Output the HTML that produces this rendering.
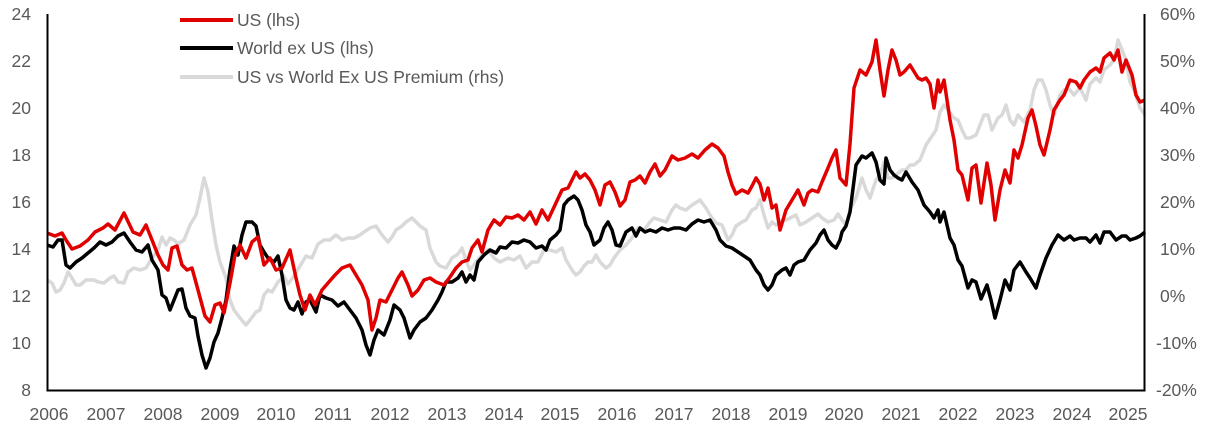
<!DOCTYPE html><html><head><style>body{margin:0;background:#fff}svg{display:block}text{font-family:"Liberation Sans",sans-serif;font-size:17.5px;fill:#595959}</style></head><body>
<svg width="1216" height="438" viewBox="0 0 1216 438">
<g text-anchor="end"><text x="31" y="20">24</text><text x="31" y="67">22</text><text x="31" y="114">20</text><text x="31" y="161">18</text><text x="31" y="208">16</text><text x="31" y="255">14</text><text x="31" y="302">12</text><text x="31" y="349">10</text><text x="31" y="396">8</text></g>
<g><text x="1160" y="20">60%</text><text x="1160" y="67">50%</text><text x="1160" y="114">40%</text><text x="1160" y="161">30%</text><text x="1160" y="208">20%</text><text x="1160" y="255">10%</text><text x="1160" y="302">0%</text><text x="1156" y="349">-10%</text><text x="1156" y="396">-20%</text></g>
<g text-anchor="middle"><text x="49" y="420">2006</text><text x="106" y="420">2007</text><text x="163" y="420">2008</text><text x="220" y="420">2009</text><text x="276" y="420">2010</text><text x="333" y="420">2011</text><text x="390" y="420">2012</text><text x="447" y="420">2013</text><text x="504" y="420">2014</text><text x="560" y="420">2015</text><text x="617" y="420">2016</text><text x="674" y="420">2017</text><text x="731" y="420">2018</text><text x="788" y="420">2019</text><text x="844" y="420">2020</text><text x="901" y="420">2021</text><text x="958" y="420">2022</text><text x="1015" y="420">2023</text><text x="1072" y="420">2024</text><text x="1128" y="420">2025</text></g>
<g fill="none" stroke-width="3.5" stroke-linejoin="round">
<polyline stroke="#d9d9d9" points="47,280 52,283 56,292 60,290 64,283 68,272 72,278 76,285 80,285 86,280 90,280 94,280 98,282 104,283 110,278 114,276 118,282 124,283 128,272 134,268 140,270 146,268 152,258 158,250 162,237 166,245 170,238 174,240 178,244 184,240 190,225 196,215 200,198 204,178 208,192 212,220 216,245 220,262 226,278 230,300 234,310 240,318 246,325 250,320 256,312 260,310 264,295 268,290 272,292 278,282 284,276 288,284 294,276 300,266 306,256 312,258 318,244 324,240 330,240 336,235 342,240 348,238 354,238 360,235 364,232 370,228 376,226 382,235 388,242 392,237 396,230 402,226 406,222 412,218 416,222 420,226 426,230 430,248 436,262 440,266 446,268 452,258 458,254 462,248 466,260 470,270 476,262 482,255 488,250 494,258 500,262 508,258 514,260 520,256 526,268 532,262 538,262 544,250 550,250 556,252 562,248 566,260 572,270 576,275 580,272 584,266 588,262 592,262 596,255 600,262 606,268 610,265 614,258 620,250 626,245 632,238 638,228 644,230 650,222 654,218 660,220 666,222 672,210 676,205 680,208 686,210 692,205 700,200 706,208 710,215 716,223 722,225 728,240 732,235 736,226 742,222 746,220 752,210 756,208 760,200 764,215 768,228 772,222 776,225 780,222 786,220 790,218 796,215 800,225 806,222 812,218 818,214 822,218 828,222 834,220 838,214 842,220 846,225 850,210 856,198 862,178 866,190 870,198 876,180 880,175 884,162 888,178 892,178 896,175 902,170 906,170 910,165 914,165 920,160 926,145 932,136 936,130 940,112 944,105 948,110 954,118 958,120 962,130 966,138 970,138 976,135 980,125 984,115 988,115 992,130 998,118 1002,115 1006,105 1010,120 1014,125 1018,115 1024,122 1030,110 1034,90 1038,80 1042,80 1046,90 1050,105 1054,115 1060,95 1064,90 1070,90 1074,95 1080,88 1086,100 1090,84 1096,78 1100,82 1104,70 1110,65 1114,60 1118,40 1122,50 1126,60 1130,82 1134,90 1140,108 1145,115"/>
<polyline stroke="#000" points="47,245 53,247 58,240 62,240 66,265 70,268 76,262 82,258 88,253 94,248 100,242 106,245 112,242 118,236 124,233 130,242 136,250 142,252 148,245 152,260 158,270 162,295 166,298 170,310 174,300 178,290 182,289 186,308 190,316 195,318 198,336 202,355 206,368 210,358 214,342 218,333 222,318 226,300 230,270 234,246 238,255 242,235 246,222 252,222 256,226 260,245 264,252 268,258 274,262 278,256 282,275 286,300 290,308 294,310 298,302 302,314 306,302 310,300 316,312 320,295 326,298 332,300 338,306 344,302 350,310 356,318 362,330 366,345 370,355 374,340 378,330 384,335 390,320 394,305 400,310 404,318 410,338 414,330 420,322 426,318 432,310 438,300 442,292 446,282 452,282 458,278 462,272 466,282 470,275 474,280 478,262 484,255 490,250 496,253 500,247 506,248 512,242 518,243 524,240 530,242 536,248 542,246 546,250 550,240 556,235 560,230 564,205 568,200 574,196 578,200 582,210 586,225 590,232 594,245 600,240 604,228 608,222 612,230 616,245 620,246 626,232 632,228 636,236 640,228 645,232 650,230 656,232 662,228 668,230 674,228 680,228 686,230 692,224 698,220 704,222 710,220 716,230 720,240 726,246 732,248 738,252 744,256 750,260 756,270 760,275 764,285 768,290 772,285 776,275 782,270 786,268 790,275 794,265 798,262 804,260 810,250 816,243 820,235 824,230 828,240 832,245 836,248 840,240 842,232 846,226 850,212 856,165 862,156 866,158 872,153 876,162 880,180 884,184 886,158 890,170 894,175 898,178 902,180 906,172 912,182 918,190 924,205 930,212 934,218 938,210 940,222 944,212 950,238 954,245 958,260 962,266 968,288 972,280 976,282 981,299 987,285 991,300 995,318 1000,300 1005,280 1010,290 1014,270 1020,262 1026,272 1030,278 1036,288 1040,275 1046,258 1052,245 1058,235 1064,240 1070,236 1074,240 1080,238 1086,238 1090,242 1096,235 1100,243 1104,232 1110,232 1116,240 1122,236 1126,236 1130,240 1136,238 1140,236 1145,232"/>
<polyline stroke="#e00000" points="47,233 55,236 62,233 66,240 72,249 80,246 88,240 95,232 103,228 108,224 115,230 124,213 133,232 140,235 146,225 152,240 158,255 163,265 168,270 172,248 177,246 182,265 187,270 192,268 198,290 205,316 210,322 215,305 220,303 224,313 230,283 235,255 240,245 246,258 252,242 258,237 264,265 270,258 276,270 282,268 290,250 296,278 300,295 305,310 310,295 315,305 322,290 328,283 335,275 342,268 350,265 356,275 362,285 368,300 372,330 376,318 380,300 386,302 392,290 398,278 402,272 408,285 412,296 418,290 424,280 430,278 436,282 444,285 450,277 456,268 462,262 468,260 472,248 478,240 482,252 488,230 494,220 500,225 506,217 512,218 518,215 524,220 530,212 536,224 542,210 548,220 555,205 562,190 568,188 572,180 576,172 580,178 585,174 590,180 595,190 600,205 605,185 610,182 615,192 620,206 625,200 630,182 635,180 640,176 645,183 650,172 655,164 660,176 665,170 672,156 678,160 685,158 692,154 698,158 705,150 712,144 718,148 724,156 728,172 732,185 736,194 742,190 748,193 752,186 756,178 760,184 764,200 768,188 772,208 776,205 780,230 786,210 792,200 798,190 804,205 808,193 812,190 818,192 822,182 828,168 832,158 836,150 840,178 846,185 850,144 854,88 860,70 866,75 872,62 876,40 880,70 884,96 888,70 892,50 896,60 900,75 904,72 910,65 918,78 922,80 926,78 930,84 934,108 938,80 940,92 944,80 950,120 954,140 958,170 962,175 968,200 972,168 976,165 981,203 987,163 991,185 995,220 1000,190 1005,170 1010,183 1014,150 1018,158 1022,145 1028,118 1032,110 1036,126 1040,145 1044,155 1050,130 1054,110 1060,100 1064,95 1070,80 1076,82 1080,88 1084,80 1090,72 1096,68 1100,72 1104,58 1110,53 1114,60 1118,50 1122,72 1126,60 1128,65 1132,75 1136,95 1140,102 1145,100"/>
</g>
<path d="M47.5,14V390.5H1144.5V14" fill="none" stroke="#000" stroke-width="2"/>
<line x1="180" y1="20" x2="233" y2="20" stroke="#e00000" stroke-width="4"/>
<line x1="180" y1="48" x2="233" y2="48" stroke="#000" stroke-width="4"/>
<line x1="180" y1="77" x2="233" y2="77" stroke="#d9d9d9" stroke-width="4"/>
<text x="237" y="26">US (lhs)</text><text x="237" y="54">World ex US (lhs)</text><text x="237" y="83">US vs World Ex US Premium (rhs)</text>
</svg></body></html>
